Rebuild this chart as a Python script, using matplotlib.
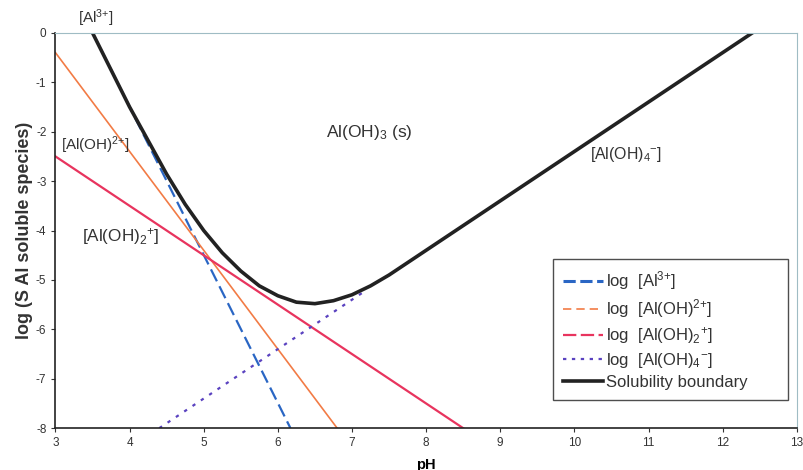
import matplotlib
matplotlib.use("Agg")
import matplotlib.pyplot as plt
from matplotlib.lines import Line2D

plt.rcParams['font.family'] = ['Liberation Sans', 'DejaVu Sans']
plt.rcParams['mathtext.fontset'] = 'custom'
plt.rcParams['mathtext.rm'] = 'Liberation Sans'
plt.rcParams['mathtext.it'] = 'Liberation Sans'
plt.rcParams['axes.unicode_minus'] = False

# species lines (endpoints)
ph_al3 = [3.5, 6.17]
log_al3 = [0.0, -8.0]
ph_aloh = [3.0, 6.8]
log_aloh = [-0.4, -8.0]
ph_aloh2 = [3.0, 8.5]
log_aloh2 = [-2.5, -8.0]
ph_aloh4 = [4.4, 7.2]
log_aloh4 = [-8.0, -5.2]

# solubility boundary
ph_bound = [3.5, 4.0, 4.5, 4.75, 5.0, 5.25, 5.5, 5.75, 6.0, 6.25, 6.5, 6.75,
            7.0, 7.25, 7.5, 8.0, 9.0, 10.0, 11.0, 12.0, 12.4]
log_bound = [0.0, -1.5, -2.86, -3.47, -4.0, -4.45, -4.82, -5.12, -5.32, -5.45,
             -5.48, -5.42, -5.3, -5.12, -4.9, -4.4, -3.4, -2.4, -1.4, -0.4, 0.0]

labels = [r'log  [Al$^{3{+}}$]', r'log  [Al(OH)$^{2{+}}$]', r'log  [Al(OH)$_2$$^{+}$]',
          r'log  [Al(OH)$_4$$^{-}$]', 'Solubility boundary']

c_al3, c_aloh, c_aloh2, c_aloh4, c_bound = '#2a66c4', '#f27b45', '#e8345e', '#5a42c0', '#222222'

fig = plt.figure(figsize=(8.04, 4.70), dpi=100)
ax = fig.add_axes([0.069, 0.089, 0.922, 0.841])

ax.plot(ph_al3, log_al3, color=c_al3, lw=1.6, dashes=(6, 2.5))
ax.plot(ph_aloh, log_aloh, color=c_aloh, lw=1.2)
ax.plot(ph_aloh2, log_aloh2, color=c_aloh2, lw=1.6)
ax.plot(ph_aloh4, log_aloh4, color=c_aloh4, lw=1.6, dashes=(1.5, 3))
ax.plot(ph_bound, log_bound, color=c_bound, lw=2.6)

ax.set_xlim(3, 13)
ax.set_ylim(-8, 0)
ax.set_xticks(range(3, 14))
ax.set_yticks(range(-8, 1))
ax.tick_params(labelsize=8.5, colors='#333333', length=3, direction='out')

for s in ['top', 'right']:
    ax.spines[s].set_color('#9fbcc4')
    ax.spines[s].set_linewidth(0.8)
for s in ['left', 'bottom']:
    ax.spines[s].set_color('#222222')
    ax.spines[s].set_linewidth(1.2)

ax.set_xlabel('pH', fontsize=10.5, fontweight='bold', labelpad=6)
ax.set_ylabel('log (S Al soluble species)', fontsize=13, fontweight='bold', labelpad=2,
              color='#333333')

col = '#333333'
ax.text(3.55, 0.08, r'[Al$^{3{+}}$]', ha='center', va='bottom', clip_on=False,
        fontsize=11, color=col)
ax.text(3.08, -2.27, r'[Al(OH)$^{2{+}}$]', ha='left', va='center', fontsize=11, color=col)
ax.text(3.36, -4.13, r'[Al(OH)$_2$$^{+}$]', ha='left', va='center', fontsize=12.3, color=col)
ax.text(7.23, -2.02, r'Al(OH)$_3$ (s)', ha='center', va='center', fontsize=12.5, color=col)
ax.text(10.7, -2.47, r'[Al(OH)$_4$$^{-}$]', ha='center', va='center', fontsize=11.4, color=col)

handles = [
    Line2D([], [], color=c_al3, lw=2.2, dashes=(4, 1.5)),
    Line2D([], [], color=c_aloh, lw=1.2, dashes=(5, 3)),
    Line2D([], [], color=c_aloh2, lw=1.6, dashes=(6, 2)),
    Line2D([], [], color=c_aloh4, lw=1.6, dashes=(1.5, 2.5)),
    Line2D([], [], color=c_bound, lw=2.6),
]
leg = ax.legend(handles, labels, loc='lower left', mode='expand',
                bbox_to_anchor=(0.671, 0.071, 0.317, 0.365), borderaxespad=0,
                fontsize=12, frameon=True, fancybox=False, edgecolor='#222222',
                handlelength=2.4, handletextpad=0.2, labelspacing=0.3,
                borderpad=0.6, labelcolor='#333333')
leg.get_frame().set_linewidth(1.0)

fig.savefig('out.png', dpi=100)
